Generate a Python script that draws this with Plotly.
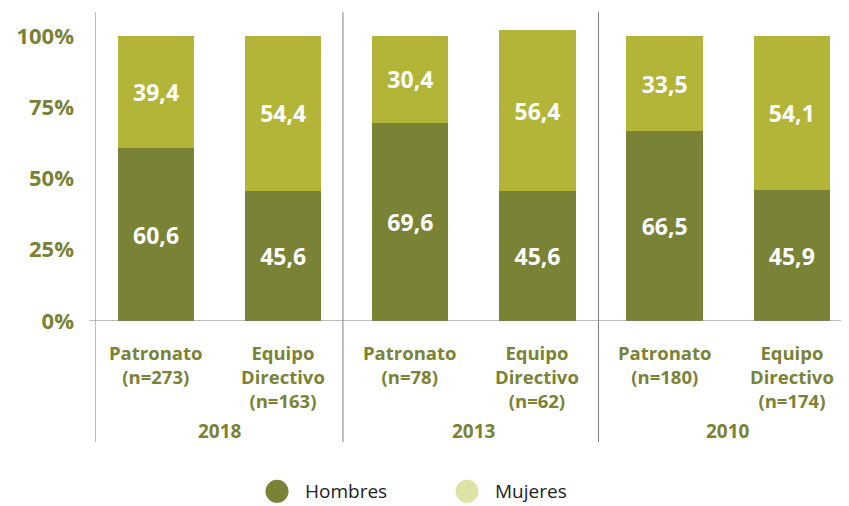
import plotly.graph_objects as go

categories = ["Patronato<br>(n=273)", "Equipo<br>Directivo<br>(n=163)",
              "Patronato<br>(n=78)", "Equipo<br>Directivo<br>(n=62)",
              "Patronato<br>(n=180)", "Equipo<br>Directivo<br>(n=174)"]
years = ["2018", "2013", "2010"]
series_names = ["Hombres", "Mujeres"]
hombres = [60.6, 45.6, 69.6, 45.6, 66.5, 45.9]
mujeres = [39.4, 54.4, 30.4, 56.4, 33.5, 54.1]
y_ticks = [0, 25, 50, 75, 100]
y_ticktext = ["0%", "25%", "50%", "75%", "100%"]

DARK = "#7a8235"
LIGHT = "#b2b538"
LIGHT_LEG = "#dde2a5"
AXIS = "#7f7f7f"
FONT = "Open Sans"

xs = list(range(len(categories)))

def fmt(v):
    return f"{v:.1f}".replace(".", ",")

fig = go.Figure()
for name, vals, col in [(series_names[0], hombres, DARK), (series_names[1], mujeres, LIGHT)]:
    fig.add_trace(go.Bar(x=xs, y=vals, name=name,
                         marker=dict(color=col, line=dict(width=0)), width=0.6,
                         text=[fmt(v) for v in vals], textposition="inside",
                         insidetextanchor="middle",
                         textfont=dict(color="white", size=23, family=FONT, weight="bold"),
                         showlegend=False, hoverinfo="skip"))

annotations = []
for i, c in enumerate(categories):
    annotations.append(dict(x=i, y=-0.055, xref="x", yref="paper", text=c,
                            showarrow=False, yanchor="top", xanchor="center",
                            font=dict(color=DARK, size=18.5, family=FONT, weight="bold")))
for g, yr in enumerate(years):
    annotations.append(dict(x=2 * g + 0.5, y=-0.308, xref="x", yref="paper", text=yr,
                            showarrow=False, yanchor="top", xanchor="center",
                            font=dict(color=DARK, size=19, family=FONT, weight="bold")))

shapes = []
for xb in [-0.48, 1.47, 3.48]:
    shapes.append(dict(type="line", xref="x", yref="paper", x0=xb, x1=xb,
                       y0=-0.392, y1=1, line=dict(color=AXIS, width=1)))
shapes.append(dict(type="line", xref="paper", yref="y", x0=-0.008, x1=1,
                   y0=0, y1=0, line=dict(color=AXIS, width=1)))

# legend (drawn manually so it can sit close to the bottom edge)
leg_y = -0.551
for name, col, mx, tx in [(series_names[0], DARK, 0.2414, 0.2758),
                          (series_names[1], LIGHT_LEG, 0.4934, 0.5278)]:
    shapes.append(dict(type="circle", xref="paper", yref="paper",
                       xsizemode="pixel", ysizemode="pixel",
                       xanchor=mx, yanchor=leg_y, x0=-11.5, x1=11.5, y0=-11.5, y1=11.5,
                       fillcolor=col, line=dict(width=0)))
    annotations.append(dict(x=tx, y=leg_y, xref="paper", yref="paper", text=name,
                            showarrow=False, xanchor="left", yanchor="middle",
                            font=dict(color="#222222", size=19, family=FONT)))

fig.update_layout(
    barmode="stack",
    width=841, height=498,
    margin=dict(l=87, r=0, t=4, b=185, autoexpand=False),
    paper_bgcolor="white", plot_bgcolor="white",
    showlegend=False,
    xaxis=dict(range=[-0.48, 5.45], showticklabels=False, showgrid=False,
               zeroline=False, showline=False, ticks="", automargin=False),
    yaxis=dict(range=[0, 108.4], tickvals=y_ticks, ticktext=y_ticktext,
               showgrid=False, zeroline=False, showline=False,
               ticklabelstandoff=20, automargin=False,
               tickfont=dict(color=DARK, size=22, family=FONT, weight="bold")),
    annotations=annotations,
    shapes=shapes,
)

fig.write_html("out.html")
